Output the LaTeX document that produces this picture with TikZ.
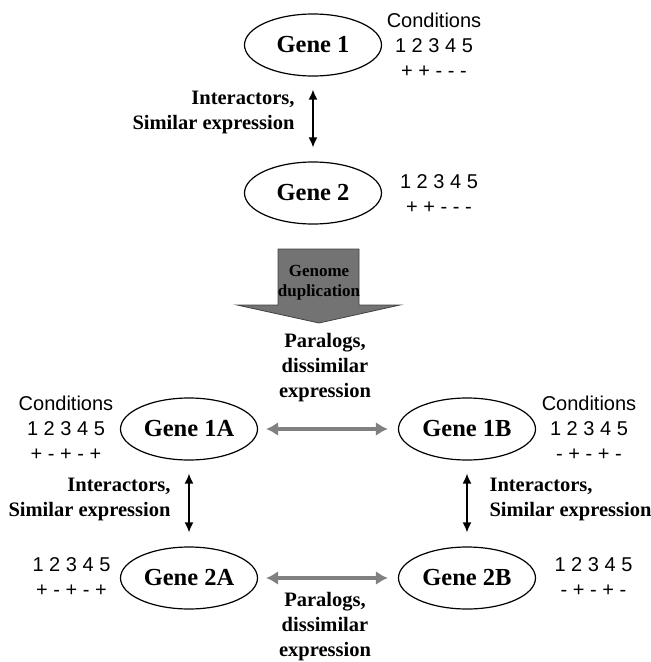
\documentclass[tikz,border=0pt]{standalone}
\usepackage{fontspec}
\setmainfont{Liberation Serif}
\setsansfont{Liberation Sans}
\usetikzlibrary{shapes.geometric, positioning, arrows.meta}

\begin{document}
\begin{tikzpicture}[x=1pt, y=-1pt,
  gene/.style={ellipse, draw, line width=1.2pt, minimum width=137pt, minimum height=62pt,
    inner sep=0pt, font=\fontsize{24.5}{28}\selectfont\bfseries},
  cond/.style={align=center, font=\sffamily\fontsize{20}{25}\selectfont},
  lbl/.style={font=\fontsize{20.5}{25}\selectfont\bfseries},
  interact/.style={{Latex[length=10pt,width=9pt]}-{Latex[length=10pt,width=9pt]},
    line width=1.6pt, shorten <=13pt, shorten >=14pt},
  paralog/.style={{Latex[length=12pt,width=14pt]}-{Latex[length=12pt,width=14pt]},
    draw=black!50, line width=4pt, shorten <=8pt, shorten >=10pt}]

\useasboundingbox (0,0) rectangle (651,662);

% genes
\foreach \n/\x/\y in {1/313/45, 2/313/193, 1A/189/429, 1B/467/429, 2A/189/578, 2B/467/578}
  \node[gene] (g\n) at (\x,\y) {Gene \n};

% expression under the conditions
\node[cond] (c1)  at (434,45)    {Conditions\\1 2 3 4 5\\+ + - - -};
\node[cond] (c2)  at (439,194.5) {1 2 3 4 5\\+ + - - -};
\node[cond] (c1A) at (66,428)    {Conditions\\1 2 3 4 5\\+ - + - +};
\node[cond] (c1B) at (589,428)   {Conditions\\1 2 3 4 5\\- + - + -};
\node[cond] (c2A) at (71.5,577.5)  {1 2 3 4 5\\+ - + - +};
\node[cond] (c2B) at (593.5,577.5) {1 2 3 4 5\\- + - + -};

% interactors
\draw[interact] (g1) -- (g2);
\draw[interact] (g1A) -- (g2A);
\draw[interact] (g1B) -- (g2B);
\node[lbl, align=right, anchor=east] (i1) at (298,112) {Interactors,\\Similar expression};
\node[lbl, align=right, anchor=east] (i2) at (174,499) {Interactors,\\Similar expression};
\node[lbl, align=left, anchor=west]  (i3) at (486,499) {Interactors,\\Similar expression};

% paralogs
\draw[paralog] (g1A) -- (g1B);
\draw[paralog] (g2A) -- (g2B);
\node[lbl, align=center] (p1) at (325,368) {Paralogs,\\dissimilar\\expression};
\node[lbl, align=center] (p2) at (325,627) {Paralogs,\\dissimilar\\expression};

% duplication arrow
\draw[fill=black!55, draw=black!75, line width=0.8pt]
  (278,249) -- (359,249) -- (359,305) -- (400,305) -- (319,323)
  -- (237,305) -- (278,305) -- cycle;
\node[align=center, font=\fontsize{17}{20}\selectfont\bfseries] (dup) at (319,283) {Genome\\duplication};
\end{tikzpicture}
\end{document}
